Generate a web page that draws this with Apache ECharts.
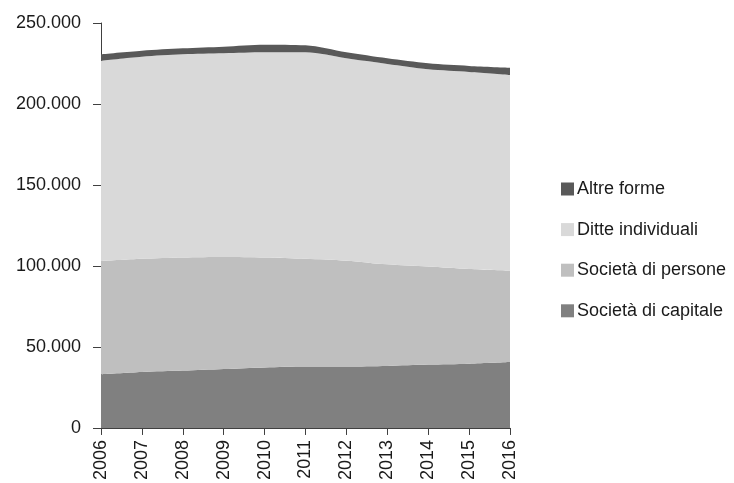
<!DOCTYPE html>
<html><head><meta charset="utf-8">
<script src="https://cdn.jsdelivr.net/npm/echarts@6/dist/echarts.min.js"></script>
<style>html,body{margin:0;padding:0;background:#fff}#c{width:734px;height:483px}</style>
</head><body><div id="c"></div>
<script>
var years = ['2006','2007','2008','2009','2010','2011','2012','2013','2014','2015','2016'];
var capitale = [33100, 34500, 35400, 36400, 37400, 38000, 38000, 38300, 39100, 39700, 40700];
var persone = [70000, 70000, 69900, 69200, 67900, 66500, 65300, 62700, 60500, 58400, 56400];
var ditte = [123600, 124700, 125400, 125700, 126600, 127400, 124900, 123700, 121800, 121700, 120800];
var altre = [4000, 3700, 3700, 4100, 4700, 4300, 3700, 3500, 3700, 3700, 4500];
var seriesNames = ['Società di capitale','Società di persone','Ditte individuali','Altre forme'];
var legendOrder = ['Altre forme','Ditte individuali','Società di persone','Società di capitale'];

var colors = ['#808080','#bfbfbf','#d9d9d9','#595959'];
var dataSets = [capitale, persone, ditte, altre];
var font = 'Liberation Sans, Arial, sans-serif';
var chart = echarts.init(document.getElementById('c'), null, {renderer:'canvas'});
chart.setOption({
  animation:false,
  backgroundColor:'#fff',
  grid:{left:101,right:224,top:23,bottom:55,containLabel:false},
  legend:{
    orient:'vertical', left:556, top:175, itemGap:22.6, itemWidth:13, itemHeight:13,
    icon:'rect', data:legendOrder,
    textStyle:{fontFamily:font,fontSize:18,lineHeight:18,color:'#1a1a1a',padding:[0,0,0,-2]}
  },
  xAxis:{
    type:'category', data:years, boundaryGap:false,
    axisLine:{lineStyle:{color:'#404040',width:1}},
    axisTick:{show:true,alignWithLabel:true,length:7,lineStyle:{color:'#404040'}},
    axisLabel:{rotate:90,fontFamily:font,fontSize:18,color:'#1a1a1a',margin:12}
  },
  yAxis:{
    type:'value', min:0, max:250000, interval:50000,
    axisLine:{show:true,lineStyle:{color:'#404040',width:1}},
    axisTick:{show:true,length:8,lineStyle:{color:'#404040'}},
    splitLine:{show:false},
    axisLabel:{fontFamily:font,fontSize:18,color:'#1a1a1a',margin:20,
      formatter:function(v){return v===0?'0':(v/1000)+'.000';}}
  },
  series: seriesNames.map(function(n,i){
    return {name:n,type:'line',stack:'tot',smooth:0.3,symbol:'none',
      data:dataSets[i],
      lineStyle:{width:0},
      itemStyle:{color:colors[i]},
      areaStyle:{color:colors[i],opacity:1}};
  })
});
</script></body></html>
